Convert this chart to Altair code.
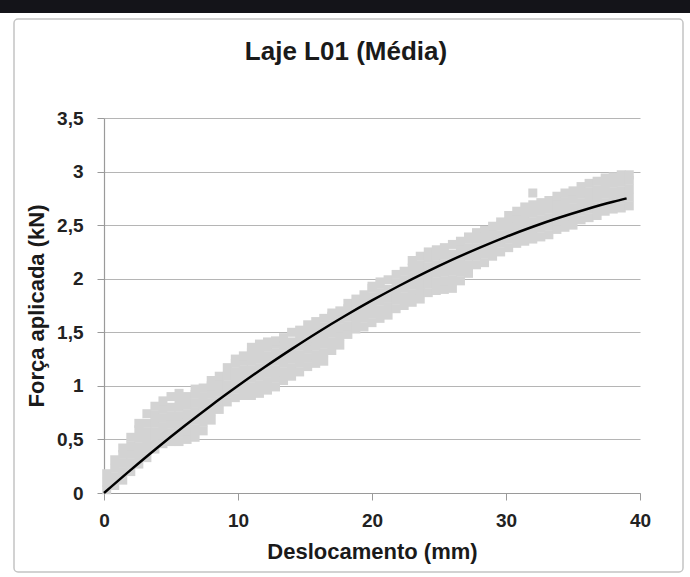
import altair as alt
import pandas as pd

# --- data ---
col_x = [0.2, 0.8, 1.4, 2.0, 2.6, 3.2, 3.8, 4.4, 5.0, 5.6, 6.2, 6.8, 7.4, 8.0, 8.6, 9.2, 9.8,
         10.4, 11.0, 11.6, 12.2, 12.8, 13.4, 14.0, 14.6, 15.2, 15.8, 16.4, 17.0, 17.6, 18.2,
         18.8, 19.4, 20.0, 20.6, 21.2, 21.8, 22.4, 23.0, 23.6, 24.2, 24.8, 25.4, 26.0, 26.6,
         27.2, 27.8, 28.4, 29.0, 29.6, 30.2, 30.8, 31.4, 32.0, 32.6, 33.2, 33.8, 34.4, 35.0,
         35.6, 36.2, 36.8, 37.4, 38.0, 38.6, 39.2]
col_y = [
    [0.03, 0.10, 0.18],
    [0.07, 0.15, 0.23, 0.31],
    [0.12, 0.20, 0.28, 0.36, 0.42],
    [0.20, 0.28, 0.36, 0.44, 0.52],
    [0.27, 0.35, 0.43, 0.51, 0.59, 0.65],
    [0.33, 0.41, 0.49, 0.57, 0.65, 0.74],
    [0.41, 0.49, 0.57, 0.65, 0.73, 0.81],
    [0.46, 0.54, 0.62, 0.70, 0.78, 0.86],
    [0.48, 0.56, 0.64, 0.72, 0.80, 0.90],
    [0.48, 0.56, 0.64, 0.72, 0.80, 0.88, 0.93],
    [0.50, 0.58, 0.66, 0.74, 0.82, 0.90],
    [0.52, 0.60, 0.68, 0.76, 0.84, 0.92, 0.97],
    [0.58, 0.66, 0.74, 0.82, 0.90, 0.98],
    [0.68, 0.76, 0.84, 0.92, 1.00, 1.05],
    [0.78, 0.86, 0.94, 1.02, 1.09],
    [0.85, 0.93, 1.01, 1.09, 1.17],
    [0.89, 0.97, 1.05, 1.13, 1.21, 1.25],
    [0.91, 0.99, 1.07, 1.15, 1.23, 1.28],
    [0.91, 0.99, 1.07, 1.15, 1.23, 1.31, 1.36],
    [0.93, 1.01, 1.09, 1.17, 1.25, 1.33, 1.39],
    [0.96, 1.04, 1.12, 1.20, 1.28, 1.36, 1.41],
    [0.99, 1.07, 1.15, 1.23, 1.31, 1.39, 1.42],
    [1.05, 1.13, 1.21, 1.29, 1.37, 1.45],
    [1.09, 1.17, 1.25, 1.33, 1.41, 1.50],
    [1.13, 1.21, 1.29, 1.37, 1.45, 1.52],
    [1.18, 1.26, 1.34, 1.42, 1.50, 1.57],
    [1.21, 1.29, 1.37, 1.45, 1.53, 1.60],
    [1.23, 1.31, 1.39, 1.47, 1.55, 1.63],
    [1.33, 1.41, 1.49, 1.57, 1.65, 1.68],
    [1.38, 1.46, 1.54, 1.62, 1.70],
    [1.48, 1.56, 1.64, 1.72, 1.77],
    [1.53, 1.61, 1.69, 1.77, 1.81],
    [1.55, 1.63, 1.71, 1.79, 1.85],
    [1.59, 1.67, 1.75, 1.83, 1.91, 1.93],
    [1.63, 1.71, 1.79, 1.87, 1.95, 1.97],
    [1.66, 1.74, 1.82, 1.90, 1.99],
    [1.72, 1.80, 1.88, 1.96, 2.04],
    [1.75, 1.83, 1.91, 1.99, 2.07],
    [1.78, 1.86, 1.94, 2.02, 2.10, 2.17],
    [1.81, 1.89, 1.97, 2.05, 2.13, 2.21],
    [1.87, 1.95, 2.03, 2.11, 2.19, 2.25],
    [1.89, 1.97, 2.05, 2.13, 2.21, 2.27],
    [1.90, 1.98, 2.06, 2.14, 2.22, 2.29],
    [1.91, 1.99, 2.07, 2.15, 2.23, 2.32],
    [1.98, 2.06, 2.14, 2.22, 2.30, 2.35],
    [2.05, 2.13, 2.21, 2.29, 2.37, 2.39],
    [2.13, 2.21, 2.29, 2.37, 2.43],
    [2.15, 2.23, 2.31, 2.39, 2.45],
    [2.21, 2.29, 2.37, 2.45, 2.49],
    [2.25, 2.33, 2.41, 2.49, 2.53],
    [2.29, 2.37, 2.45, 2.53, 2.59],
    [2.33, 2.41, 2.49, 2.57, 2.63],
    [2.35, 2.43, 2.51, 2.59, 2.67],
    [2.37, 2.45, 2.53, 2.61, 2.69, 2.80],
    [2.39, 2.47, 2.55, 2.63, 2.71],
    [2.41, 2.49, 2.57, 2.65, 2.73],
    [2.46, 2.54, 2.62, 2.70, 2.77],
    [2.48, 2.56, 2.64, 2.72, 2.80],
    [2.50, 2.58, 2.66, 2.74, 2.82],
    [2.55, 2.63, 2.71, 2.79, 2.86],
    [2.57, 2.65, 2.73, 2.81, 2.89],
    [2.59, 2.67, 2.75, 2.83, 2.91],
    [2.63, 2.71, 2.79, 2.87, 2.94],
    [2.65, 2.73, 2.81, 2.89, 2.95],
    [2.66, 2.74, 2.82, 2.90, 2.97],
    [2.68, 2.76, 2.84, 2.92, 2.97],
]

trend_x = [0, 2, 4, 6, 8, 10, 12, 14, 16, 18, 20, 22, 24, 26, 28, 30, 32, 34, 36, 38, 39]
trend_y = [0.0, 0.216, 0.425, 0.625, 0.817, 1.0, 1.176, 1.343, 1.503, 1.654, 1.797,
           1.932, 2.059, 2.178, 2.288, 2.391, 2.485, 2.571, 2.649, 2.719, 2.75]

x_ticks = [0, 10, 20, 30, 40]
y_ticks = [0, 0.5, 1, 1.5, 2, 2.5, 3, 3.5]
chart_title = "Laje L01 (Média)"

# --- tables ---
rows = []
for cx, ys in zip(col_x, col_y):
    for yy in ys:
        rows.append({"x": cx, "y": yy})
scatter_df = pd.DataFrame(rows)
trend_df = pd.DataFrame({"x": trend_x, "y": trend_y})
one = pd.DataFrame({"k": [0]})
title_df = pd.DataFrame({"t": [chart_title]})

FONT = "Liberation Sans"

xenc = alt.X("x:Q", scale=alt.Scale(domain=[0, 40], nice=False),
             axis=alt.Axis(values=x_ticks, title="Deslocamento (mm)", grid=False,
                           tickSize=7, labelPadding=11, titlePadding=11, labelFlush=False))
yenc = alt.Y("y:Q", scale=alt.Scale(domain=[0, 3.5], nice=False),
             axis=alt.Axis(values=y_ticks, title="Força aplicada (kN)", grid=True,
                           tickSize=7, labelPadding=14, titlePadding=8, labelFlush=False,
                           labelExpr="replace(format(datum.value, '~g'), '.', ',')"))

frame = alt.Chart(one).mark_rect(fillOpacity=0, stroke="#c4c4c4", strokeWidth=1.5,
                                 cornerRadius=4).encode(
    x=alt.value(-90), x2=alt.value(579), y=alt.value(-99), y2=alt.value(454))

band = alt.Chart(one).mark_rect(fill="#141419").encode(
    x=alt.value(-104), x2=alt.value(586), y=alt.value(-118), y2=alt.value(-105))

title = alt.Chart(title_df).mark_text(font=FONT, fontSize=26, fontWeight="bold",
                                      color="#1a1a1a", align="center",
                                      baseline="alphabetic").encode(
    text="t:N", x=alt.value(242), y=alt.value(-58))

points = alt.Chart(scatter_df).mark_square(size=81, color="#d3d3d3", opacity=1).encode(
    x=xenc, y=yenc)

curve = alt.Chart(trend_df).mark_line(color="#000000", strokeWidth=2.5,
                                      interpolate="monotone").encode(
    x=alt.X("x:Q"), y=alt.Y("y:Q"))

chart = alt.layer(frame, band, title, points, curve).properties(
    width=536, height=375,
    padding={"left": 104, "top": 118, "right": 50, "bottom": 84},
    autosize=alt.AutoSizeParams(type="none"),
    background="white",
).configure_view(stroke=None).configure_axis(
    labelFont=FONT, labelFontSize=19, labelFontWeight="bold", labelColor="#222222",
    titleFont=FONT, titleFontSize=22, titleFontWeight="bold", titleColor="#1a1a1a",
    domainColor="#9a9a9a", tickColor="#9a9a9a", gridColor="#b5b5b5", gridWidth=1,
    domainWidth=1.2,
)

chart.save("out.html", embed_options={"renderer": "svg", "actions": False})
